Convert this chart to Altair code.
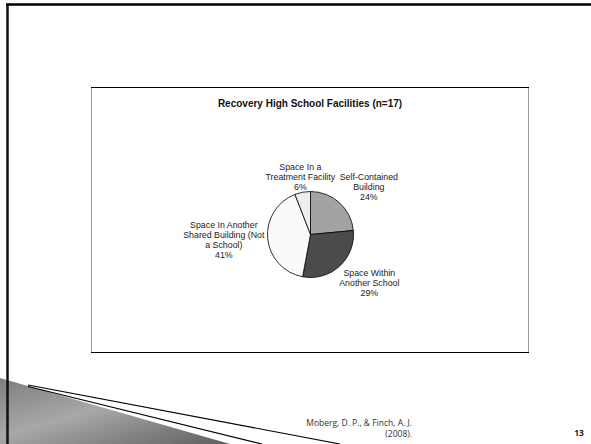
import altair as alt
import pandas as pd

# ---- chart data ----
categories = [
    "Self-Contained Building",
    "Space Within Another School",
    "Space In Another Shared Building (Not a School)",
    "Space In a Treatment Facility",
]
counts = [4, 5, 7, 1]
label_lines = [
    ["Self-Contained", "Building"],
    ["Space Within", "Another School"],
    ["Space In Another", "Shared Building (Not", "a School)"],
    ["Space In a", "Treatment Facility"],
]
slice_colors = ["#a3a3a3", "#4b4b4b", "#fafafa", "#eeeeee"]
title_text = "Recovery High School Facilities (n=17)"
citation_lines = ["Moberg, D. P., & Finch, A. J.", "(2008)."]
slide_number = "13"

# ---- decoration (slide template) ----
wedge_x = [0, 230]
wedge_top = [378, 444]
wedge_bottom = [444, 444]

total = sum(counts)
labels = [
    "\n".join(lines + [f"{round(c / total * 100)}%"])
    for lines, c in zip(label_lines, counts)
]
df = pd.DataFrame({
    "category": categories,
    "count": counts,
    "label": labels,
    "idx": list(range(len(categories))),
})

CX, CY = 310.5, 234.5
one = pd.DataFrame({"a": [0]})

# decoration wedge
wedge_df = pd.DataFrame({"x": wedge_x, "y": wedge_top, "y2": wedge_bottom})
wedge = alt.Chart(wedge_df).mark_area(
    color={
        "gradient": "linear",
        "x1": 0, "y1": 0, "x2": 1, "y2": 1,
        "stops": [
            {"offset": 0, "color": "#7e7e7e"},
            {"offset": 0.45, "color": "#a8a8a8"},
            {"offset": 1, "color": "#5e5e5e"},
        ],
    }
).encode(
    x=alt.X("x:Q", scale=alt.Scale(domain=[0, 591], range=[0, 591], nice=False, zero=False), axis=None),
    y=alt.Y("y:Q", scale=alt.Scale(domain=[0, 444], range=[0, 444], nice=False, zero=False), axis=None),
    y2="y2:Q",
)

def rule(x1, y1, x2, y2, color="#000", w=1.0):
    return alt.Chart(one).mark_rule(color=color, strokeWidth=w).encode(
        x=alt.value(x1), y=alt.value(y1), x2=alt.value(x2), y2=alt.value(y2)
    )

deco_lines = rule(28, 385, 340, 444, w=1.2) + rule(28, 386.5, 262, 444, w=1.2)

slide_border = rule(6, 4.5, 591, 4.5, w=2.5) + rule(7.5, 4, 7.5, 444, color="#111", w=2.5)

box = alt.Chart(one).mark_rect(fill="white", stroke="#9a9a9a", strokeWidth=1).encode(
    x=alt.value(91.5), x2=alt.value(528.5), y=alt.value(87.5), y2=alt.value(352.5)
)
box_rules = rule(91, 87.5, 529, 87.5, w=1.2) + rule(91, 352.5, 529, 352.5, w=1.2)

title = alt.Chart(one).mark_text(
    text=title_text, font="Liberation Sans", fontSize=10, fontWeight="bold",
    color="#111", align="center", baseline="middle"
).encode(x=alt.value(310), y=alt.value(104))

base = alt.Chart(df)
pie = base.mark_arc(outerRadius=43, stroke="#000", strokeWidth=0.8).encode(
    theta=alt.Theta("count:Q", stack=True),
    order=alt.Order("idx:Q"),
    color=alt.Color("category:N", scale=alt.Scale(domain=categories, range=slice_colors), legend=None),
    x=alt.value(CX),
    y=alt.value(CY),
)

def label_layer(cat, r, dx, dy):
    return base.mark_text(
        radius=r, dx=dx, dy=dy, font="Liberation Sans", fontSize=8.8,
        lineBreak="\n", lineHeight=10, align="center", baseline="middle", color="#222"
    ).encode(
        theta=alt.Theta("count:Q", stack=True),
        order=alt.Order("idx:Q"),
        detail="category:N",
        text="label:N",
        x=alt.value(CX),
        y=alt.value(CY),
        opacity=alt.condition(alt.datum.category == cat, alt.value(1), alt.value(0)),
    )

label_params = [(68, 12.5, -7), (68, 13, -12), (80, -7, -17), (58, 0.5, -10.5)]
label_layers = [label_layer(c, *p) for c, p in zip(categories, label_params)]

cit1 = alt.Chart(one).mark_text(
    text=citation_lines[0], font="Open Sans", fontSize=8.5, color="#333",
    align="right", baseline="middle"
).encode(x=alt.value(412), y=alt.value(422.5))
cit2 = alt.Chart(one).mark_text(
    text=citation_lines[1], font="Open Sans", fontSize=8.5, color="#333",
    align="right", baseline="middle"
).encode(x=alt.value(412), y=alt.value(433.5))
num = alt.Chart(one).mark_text(
    text=slide_number, font="Open Sans", fontSize=8.5, fontWeight="bold", color="#222",
    align="center", baseline="middle"
).encode(x=alt.value(579), y=alt.value(433))

chart = alt.layer(
    wedge, deco_lines, slide_border, box, box_rules, title, pie, *label_layers, cit1, cit2, num
).properties(
    width=591, height=444, padding=0,
    autosize=alt.AutoSizeParams(type="none"),
    background="white",
).configure_view(strokeWidth=0)

chart.save("out.html", embed_options={"renderer": "svg", "actions": False})
